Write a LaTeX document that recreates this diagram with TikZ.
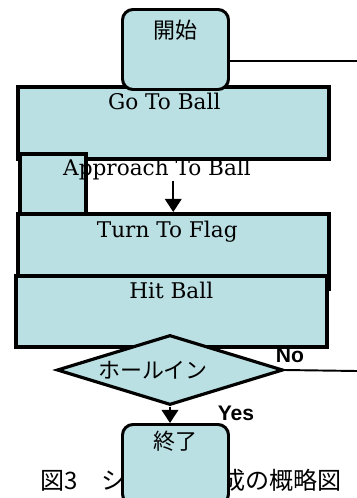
\documentclass[tikz,border=0pt]{standalone}
\usepackage{fontspec}
\setmainfont{DejaVu Serif}
\setsansfont{Liberation Sans}
\newfontfamily\jpfont{Noto Sans CJK JP}
\usetikzlibrary{shapes.geometric,arrows.meta,positioning}

\begin{document}
\begin{tikzpicture}[x=0.02cm, y=-0.02cm]
  % Colors
  \definecolor{boxcol}{RGB}{187,224,227}
  %
  \def\px{0.02cm}
  %
  \tikzset{
    termbox/.style={draw, line width=1.7pt, rounded corners=6pt, fill=boxcol,
                    minimum width=106*\px, minimum height=80*\px, inner sep=0pt, anchor=north west},
    stepbox/.style={draw, line width=2pt, fill=boxcol, inner sep=0pt, anchor=north west},
    steptext/.style={font=\fontsize{12.3}{14}\selectfont, inner sep=0pt},
    jptext/.style={font=\jpfont\fontsize{12.5}{14}\selectfont, inner sep=0pt},
    captext/.style={font=\jpfont\fontsize{13.7}{15}\selectfont, inner sep=0pt},
    decision/.style={draw, diamond, line width=1.8pt, fill=boxcol,
                     minimum width=226*\px, minimum height=70*\px, inner sep=0pt},
    yesno/.style={font=\sffamily\bfseries\fontsize{12}{14}\selectfont, inner sep=0pt},
    flow/.style={line width=1.1pt},
    flowarrow/.style={flow, -{Triangle[width=9.5pt, length=7.5pt]}},
  }
  %
  \useasboundingbox (0,0) rectangle (357,498);
  %
  %%% STEPS %%%
  \node[stepbox, minimum width=311*\px, minimum height=72*\px] (gotoball) at (16,85) {};
  \node[steptext, below=8*\px of gotoball.north, xshift=-9*\px] {Go To Ball};
  %
  \node[termbox] (start) at (121,8) {};
  \node[jptext, below=12*\px of start.north] {開始};
  %
  \node[stepbox, minimum width=66*\px, minimum height=61*\px] (approach) at (18,152) {};
  \node[steptext] (approach-text) at (157,170) {Approach To Ball};
  %
  \node[stepbox, minimum width=311*\px, minimum height=75*\px] (turn) at (16,212) {};
  \node[steptext, below=9*\px of turn.north, xshift=-6*\px] {Turn To Flag};
  %
  \node[stepbox, minimum width=311*\px, minimum height=71*\px] (hit) at (14,274) {};
  \node[steptext, below=8*\px of hit.north] {Hit Ball};
  %
  \draw[flowarrow] (turn.north |- approach-text.south) -- (turn.north);
  %
  %%% DECISION %%%
  \node[decision] (hole) at (170,370) {};
  \node[jptext] (hole-text) at (153,370) {ホールイン};
  \node[yesno] (no) at (290,355) {No};
  \node[yesno] (yes) at (236,413) {Yes};
  %
  % Outgoing lines
  \coordinate (startout) at (357,61);
  \coordinate (noout) at (357,371);
  \draw[flow] (start.east |- startout) -- (startout);
  \draw[flow] (hole.east) -- (noout);
  %
  %%% CAPTION AND END %%%
  \node[captext, anchor=east] (caption) at (342,480) {図3　システム構成の概略図};
  %
  \node[termbox] (end) at (121,423) {};
  \node[jptext, below=8*\px of end.north] {終了};
  %
  \draw[flowarrow] (hole.south) -- (hole.south |- end.north);
\end{tikzpicture}
\end{document}
